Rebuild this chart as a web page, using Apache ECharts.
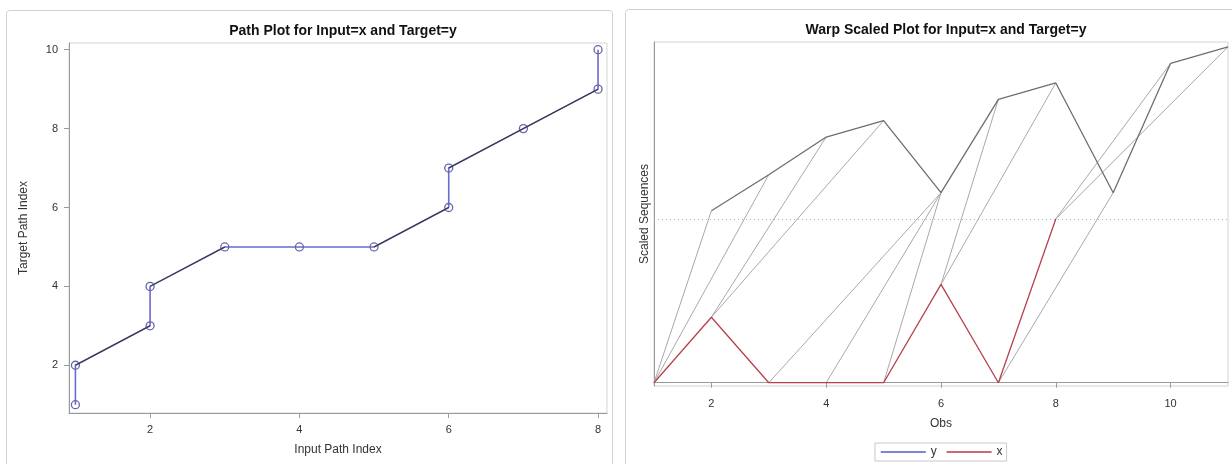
<!DOCTYPE html>
<html>
<head>
<meta charset="utf-8">
<title>Path and Warp Scaled Plots</title>
<script src="https://cdn.jsdelivr.net/npm/echarts@6/dist/echarts.min.js"></script>
<style>
  html, body { margin: 0; padding: 0; background: #ffffff; }
  #chart { width: 1232px; height: 464px; }
</style>
</head>
<body>
<div id="chart"></div>
<script>
// Warping path: index into input (x) and target (y) for each step
const pathInput  = [1, 1, 2, 2, 3, 4, 5, 6, 6, 7, 8, 8];
const pathTarget = [1, 2, 3, 4, 5, 5, 5, 6, 7, 8, 9, 10];

// Scaled input sequence x, by observation
const xObs    = [1, 2, 3, 4, 5, 6, 7, 8];
const xScaled = [0, 0.40, 0, 0, 0, 0.60, 0, 1.00];

// Scaled (offset) target sequence y, by observation
const yObs    = [2, 3, 4, 5, 6, 7, 8, 9, 10, 11];
const yScaled = [1.05, 1.27, 1.50, 1.60, 1.16, 1.73, 1.83, 1.16, 1.95, 2.05];

// Tick labels
const pathTicksX = [2, 4, 6, 8];
const pathTicksY = [2, 4, 6, 8, 10];
const obsTicks   = [2, 4, 6, 8, 10];
const midLevel   = 1.0;

const FONT = '"Liberation Sans", Arial, sans-serif';
const BLUE = '#6a6ad0';
const RED  = '#b8404c';

// Path points and the diagonal steps (both indices advance)
const pathPts = pathInput.map((v, i) => [v, pathTarget[i]]);
const diagPts = [];
for (let k = 0; k < pathPts.length - 1; k++) {
  const a = pathPts[k], b = pathPts[k + 1];
  if (a[0] !== b[0] && a[1] !== b[1]) diagPts.push(a, b, null);
}

// Warp connections from x_i to y_j
const xAt = i => [xObs[i - 1], xScaled[i - 1]];
const yAt = j => [yObs[j - 1], yScaled[j - 1]];
const warpPts = [];
pathInput.forEach((i, k) => { warpPts.push(xAt(i), yAt(pathTarget[k]), null); });

const axisText = { color: '#333', fontFamily: FONT, fontSize: 11 };
const nameText = { color: '#333', fontFamily: FONT, fontSize: 12 };

const option = {
  backgroundColor: '#ffffff',
  animation: false,
  graphic: [
    { type: 'rect', shape: { x: 6.5, y: 10.5, width: 606, height: 470, r: 3 },
      style: { fill: 'none', stroke: '#cfcfcf', lineWidth: 1 }, silent: true },
    { type: 'rect', shape: { x: 625.5, y: 9.5, width: 620, height: 470, r: 3 },
      style: { fill: 'none', stroke: '#cfcfcf', lineWidth: 1 }, silent: true }
  ],
  title: [
    { text: 'Path Plot for Input=x and Target=y', left: 338, top: 19, textAlign: 'center',
      textStyle: { fontFamily: FONT, fontSize: 14, fontWeight: 'bold', color: '#111' } },
    { text: 'Warp Scaled Plot for Input=x and Target=y', left: 941, top: 18, textAlign: 'center',
      textStyle: { fontFamily: FONT, fontSize: 14, fontWeight: 'bold', color: '#111' } }
  ],
  legend: {
    left: 875, top: 443,
    orient: 'horizontal',
    padding: [3, 4, 3, 5],
    borderColor: '#c8c8c8', borderWidth: 1,
    itemWidth: 45, itemHeight: 10, itemGap: 9,
    textStyle: { fontFamily: FONT, fontSize: 12, color: '#333' },
    data: [
      { name: 'y', lineStyle: { color: '#5a5ac8', width: 1.6, opacity: 1 }, itemStyle: { opacity: 0 } },
      { name: 'x', lineStyle: { color: '#b83844', width: 1.6, opacity: 1 }, itemStyle: { opacity: 0 } }
    ]
  },
  grid: [
    { left: 69, top: 43, width: 538, height: 370, show: true, borderColor: '#d4d4d4', borderWidth: 1 },
    { left: 654, top: 42, width: 574, height: 344, show: true, borderColor: '#d4d4d4', borderWidth: 1 }
  ],
  xAxis: [
    { type: 'value', gridIndex: 0, min: 0.914, max: 8.12,
      name: 'Input Path Index', nameLocation: 'middle', nameGap: 31, nameTextStyle: nameText,
      axisLine: { show: true, lineStyle: { color: '#9a9a9a' } },
      axisTick: { show: true, length: 5, customValues: pathTicksX, lineStyle: { color: '#9a9a9a' } },
      axisLabel: Object.assign({ margin: 11, customValues: pathTicksX }, axisText),
      splitLine: { show: false } },
    { type: 'value', gridIndex: 1, min: 1, max: 11,
      name: 'Obs', nameLocation: 'middle', nameGap: 32, nameTextStyle: nameText,
      axisLine: { show: true, lineStyle: { color: '#9a9a9a' } },
      axisTick: { show: true, length: 5, customValues: obsTicks, lineStyle: { color: '#9a9a9a' } },
      axisLabel: Object.assign({ margin: 12, customValues: obsTicks }, axisText),
      splitLine: { show: false } }
  ],
  yAxis: [
    { type: 'value', gridIndex: 0, min: 0.79, max: 10.17,
      name: 'Target Path Index', nameLocation: 'middle', nameGap: 39, nameRotate: 90, nameTextStyle: nameText,
      axisLine: { show: true, lineStyle: { color: '#9a9a9a' } },
      axisTick: { show: true, length: 5, customValues: pathTicksY, lineStyle: { color: '#9a9a9a' } },
      axisLabel: Object.assign({ margin: 11, customValues: pathTicksY }, axisText),
      splitLine: { show: false } },
    { type: 'value', gridIndex: 1, min: -0.02, max: 2.08,
      name: 'Scaled Sequences', nameLocation: 'middle', nameGap: 3, nameRotate: 90, nameTextStyle: nameText,
      axisLine: { show: true, lineStyle: { color: '#9a9a9a' } },
      axisTick: { show: false }, axisLabel: { show: false },
      splitLine: { show: false } }
  ],
  series: [
    // Path plot: full path with markers
    { type: 'line', name: 'path', xAxisIndex: 0, yAxisIndex: 0, data: pathPts,
      symbol: 'circle', symbolSize: 8, showSymbol: true,
      itemStyle: { color: 'rgba(0,0,0,0)', borderColor: '#6666a8', borderWidth: 1.3 },
      lineStyle: { color: BLUE, width: 1.6 }, z: 2 },
    // Diagonal steps of the path
    { type: 'line', name: 'diag', xAxisIndex: 0, yAxisIndex: 0, data: diagPts,
      connectNulls: false, symbol: 'none',
      lineStyle: { color: '#3a3a3a', width: 1.1 }, z: 3 },
    // Warp connections
    { type: 'line', name: 'warp', xAxisIndex: 1, yAxisIndex: 1, data: warpPts,
      connectNulls: false, symbol: 'none',
      lineStyle: { color: '#a9a9a9', width: 1 }, z: 1,
      markLine: { silent: true, symbol: 'none', label: { show: false },
        lineStyle: { color: '#b0b0b0', type: [1, 3], width: 1 },
        data: [{ yAxis: midLevel }] } },
    // Target sequence
    { type: 'line', name: 'y', xAxisIndex: 1, yAxisIndex: 1,
      data: yObs.map((o, i) => [o, yScaled[i]]), symbol: 'none',
      lineStyle: { color: '#6e6e6e', width: 1.3 }, itemStyle: { color: BLUE }, z: 2 },
    // Input sequence
    { type: 'line', name: 'x', xAxisIndex: 1, yAxisIndex: 1,
      data: xObs.map((o, i) => [o, xScaled[i]]), symbol: 'none',
      lineStyle: { color: RED, width: 1.3 }, itemStyle: { color: RED }, z: 3 }
  ]
};

const chart = echarts.init(document.getElementById('chart'), null, { renderer: 'canvas' });
chart.setOption(option);
</script>
</body>
</html>
